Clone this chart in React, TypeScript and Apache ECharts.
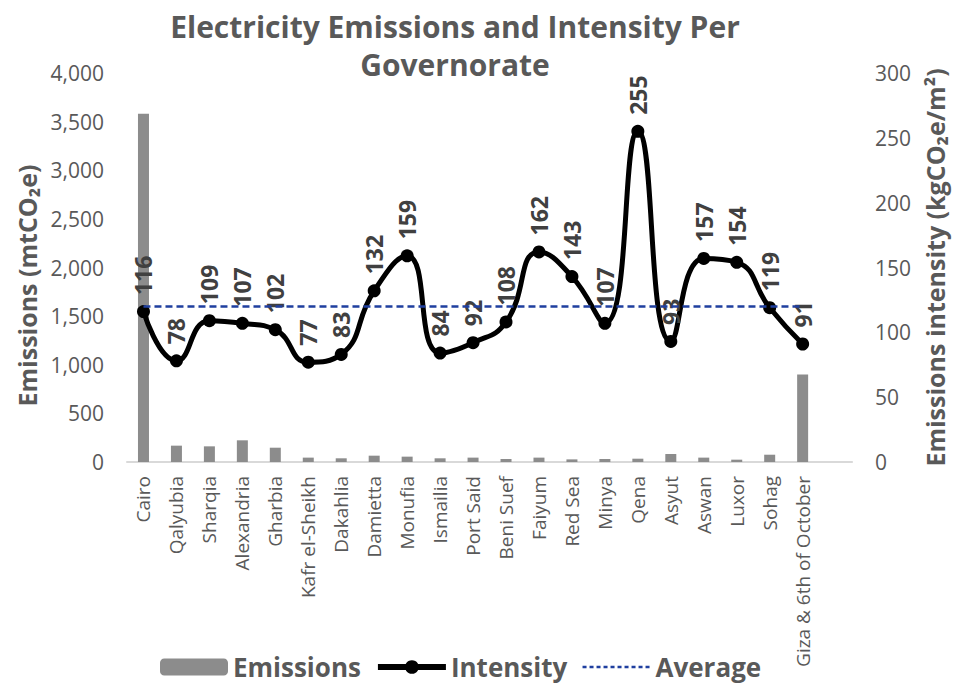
import React, { useEffect, useRef } from "react";
import * as echarts from "echarts";

const categories = [
  "Cairo", "Qalyubia", "Sharqia", "Alexandria", "Gharbia", "Kafr el-Sheikh",
  "Dakahlia", "Damietta", "Monufia", "Ismailia", "Port Said", "Beni Suef",
  "Faiyum", "Red Sea", "Minya", "Qena", "Asyut", "Aswan", "Luxor", "Sohag",
  "Giza & 6th of October", "",
];
const emissions = [3580, 168, 161, 223, 147, 45, 38, 65, 55, 38, 45, 31, 45, 27, 31, 34, 82, 45, 24, 75, 900, null];
const intensity = [116, 78, 109, 107, 102, 77, 83, 132, 159, 84, 92, 108, 162, 143, 107, 255, 93, 157, 154, 119, 91, null];
const average = [120, 120, 120, 120, 120, 120, 120, 120, 120, 120, 120, 120, 120, 120, 120, 120, 120, 120, 120, 120, 120, null];
const leftTicks = { min: 0, max: 4000, interval: 500 };
const rightTicks = { min: 0, max: 300, interval: 50 };

const FONT = "'Open Sans', 'DejaVu Sans', sans-serif";
const GRAY = "#595959";

export default function App() {
  const ref = useRef<HTMLDivElement>(null);
  useEffect(() => {
    document.body.style.margin = "0";
    if (!ref.current) return;
    const chart = echarts.init(ref.current, null, { renderer: "svg" });
    chart.setOption({
      animation: false,
      backgroundColor: "#ffffff",
      textStyle: { fontFamily: FONT },
      title: {
        text: "Electricity Emissions and Intensity Per\nGovernorate",
        left: 450,
        top: 2,
        textAlign: "center",
        textStyle: { fontFamily: FONT, fontSize: 30, fontWeight: "bold", color: GRAY, lineHeight: 38 },
      },
      legend: {
        top: 649,
        left: 155,
        itemWidth: 68,
        itemHeight: 17,
        itemGap: 14,
        textStyle: { fontFamily: FONT, fontSize: 26, fontWeight: "bold", color: GRAY },
        data: [
          { name: "Emissions" },
          { name: "Intensity", lineStyle: { width: 6 } },
          { name: "Average", itemStyle: { opacity: 0 }, lineStyle: { width: 2.5, type: [4, 3] } },
        ],
      },
      grid: { left: 127, right: 88, top: 73, bottom: 229, containLabel: false },
      xAxis: {
        type: "category",
        data: categories,
        axisLine: { show: true, lineStyle: { color: "#d9d9d9", width: 2 } },
        axisTick: { show: false },
        axisLabel: {
          interval: 0,
          rotate: 90,
          margin: 14,
          fontFamily: FONT,
          fontSize: 19,
          color: GRAY,
        },
      },
      yAxis: [
        {
          type: "value",
          ...leftTicks,
          name: "Emissions (mtCO₂e)",
          nameLocation: "middle",
          nameRotate: 90,
          nameGap: 80,
          nameTextStyle: { fontFamily: FONT, fontSize: 25, fontWeight: "bold", color: GRAY, padding: [0, 36, 0, 0] },
          axisLine: { show: false },
          axisTick: { show: false },
          splitLine: { show: false },
          axisLabel: {
            margin: 23,
            fontFamily: FONT,
            fontSize: 21,
            color: GRAY,
            formatter: (v: number) => v.toLocaleString("en-US"),
          },
        },
        {
          type: "value",
          ...rightTicks,
          position: "right",
          name: "Emissions intensity (kgCO₂e/m²)",
          nameLocation: "middle",
          nameRotate: 90,
          nameGap: 58,
          nameTextStyle: { fontFamily: FONT, fontSize: 25, fontWeight: "bold", color: GRAY },
          axisLine: { show: false },
          axisTick: { show: false },
          splitLine: { show: false },
          axisLabel: { margin: 23, fontFamily: FONT, fontSize: 21, color: GRAY },
        },
      ],
      series: [
        {
          name: "Emissions",
          type: "bar",
          yAxisIndex: 0,
          data: emissions,
          barWidth: 11,
          itemStyle: { color: "#8c8c8c" },
        },
        {
          name: "Intensity",
          type: "line",
          yAxisIndex: 1,
          data: intensity,
          smooth: 0.5,
          symbol: "circle",
          symbolSize: 13,
          lineStyle: { color: "#000000", width: 5 },
          itemStyle: { color: "#000000" },
          z: 3,
          label: {
            show: true,
            position: "top",
            distance: 10,
            rotate: 90,
            align: "left",
            verticalAlign: "middle",
            fontFamily: FONT,
            fontSize: 23,
            fontWeight: "bold",
            color: "#404040",
          },
        },
        {
          name: "Average",
          type: "line",
          yAxisIndex: 1,
          data: average,
          symbol: "none",
          lineStyle: { color: "#1f3f9f", width: 2.5, type: [7, 4] },
          itemStyle: { color: "#1f3f9f" },
          z: 4,
        },
      ],
    });
    return () => chart.dispose();
  }, []);
  return <div ref={ref} style={{ width: 955, height: 691 }} />;
}
